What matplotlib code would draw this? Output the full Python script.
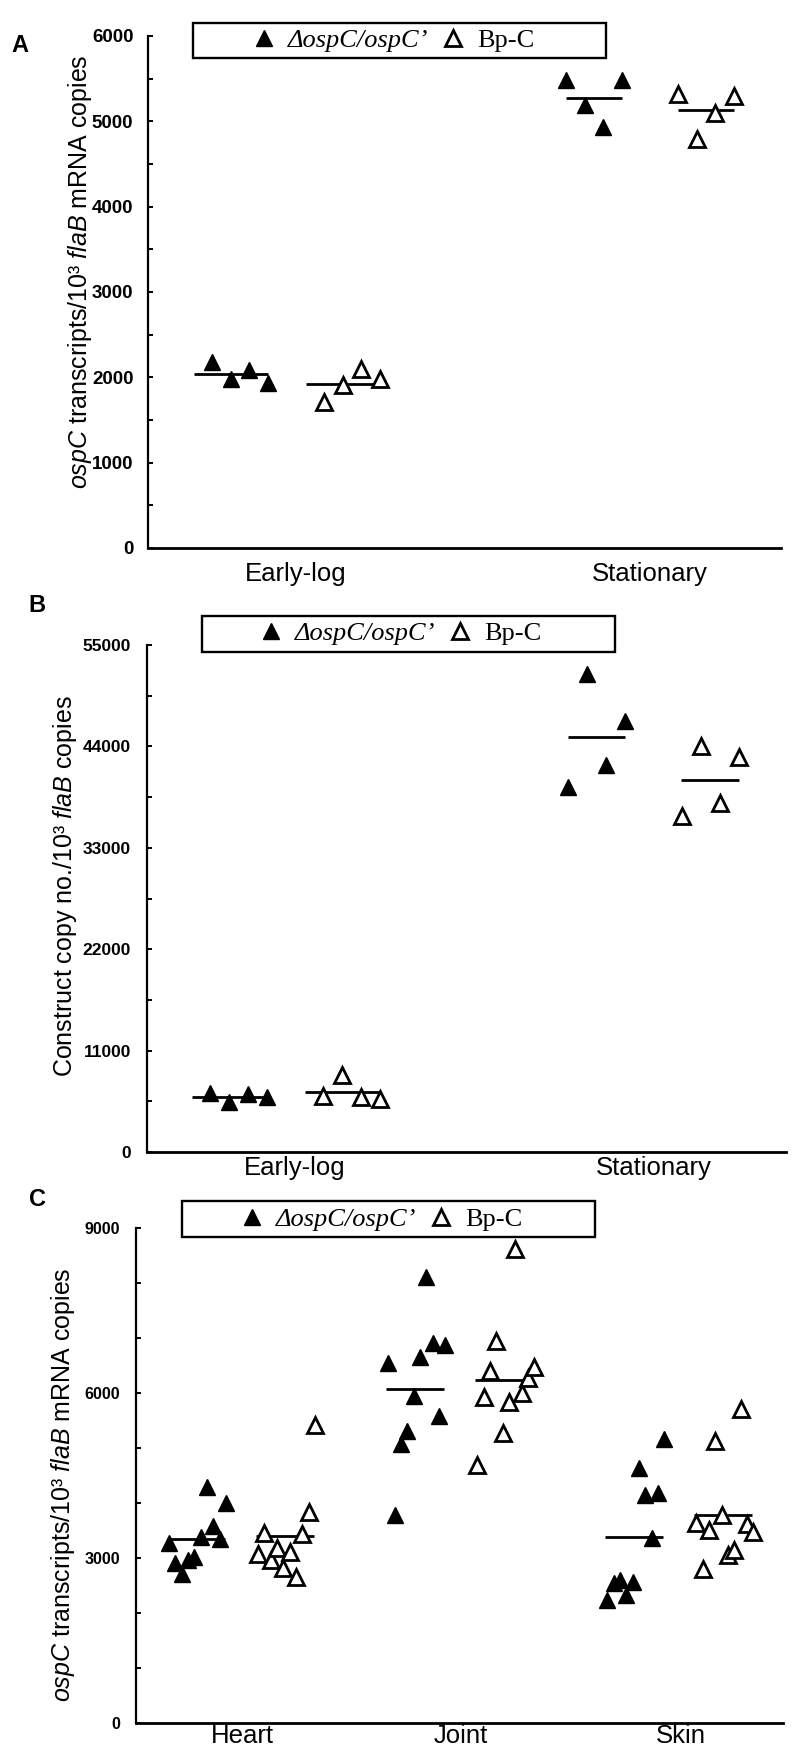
import numpy as np
import matplotlib
matplotlib.use('Agg')
import matplotlib.pyplot as plt
from matplotlib.patches import Rectangle
from matplotlib.font_manager import FontProperties

plt.rcParams['font.family'] = ['Liberation Sans', 'DejaVu Sans']
plt.rcParams['mathtext.fontset'] = 'custom'
plt.rcParams['mathtext.rm'] = 'Liberation Sans'
plt.rcParams['mathtext.it'] = 'Liberation Sans:italic'
plt.rcParams['mathtext.bf'] = 'Liberation Sans:bold'

# ---------------- data ----------------
series_names = ['\u0394ospC/ospC\u2019', 'Bp-C']
phase_labels = ['Early-log', 'Stationary']
tissue_labels = ['Heart', 'Joint', 'Skin']

# Panel A: ospC transcripts / 10^3 flaB mRNA copies (in vitro)
a_mutant_early = [2183, 1977, 2086, 1930]
a_mutant_stat = [5480, 5187, 4936, 5480]
a_bpc_early = [1715, 1910, 2094, 1977]
a_bpc_stat = [5325, 4790, 5103, 5300]

# Panel B: construct copy no. / 10^3 flaB copies
b_mutant_early = [6405, 5451, 6264, 5928]
b_mutant_stat = [39600, 51800, 42000, 46800]
b_bpc_early = [6025, 8312, 5928, 5787]
b_bpc_stat = [36500, 44000, 37900, 42900]

# Panel C: ospC transcripts / 10^3 flaB mRNA copies (tissues)
c_mutant_heart = [3272, 2898, 2703, 2958, 3018, 3382, 4291, 3582, 3334, 3989]
c_mutant_joint = [6545, 3770, 5067, 5309, 5939, 6643, 8097, 6897, 5576, 6867]
c_mutant_skin = [2231, 2534, 2594, 2322, 2564, 4625, 4140, 3352, 4170, 5158]
c_bpc_heart = [3061, 3454, 2958, 3170, 2807, 3098, 2655, 3425, 3836, 5412]
c_bpc_joint = [4679, 5916, 6399, 6939, 5272, 5836, 8606, 5988, 6261, 6472]
c_bpc_skin = [3636, 2794, 3503, 5121, 3776, 3049, 3140, 5698, 3607, 3461]

a_yticks = [0, 1000, 2000, 3000, 4000, 5000, 6000]
b_yticks = [0, 11000, 22000, 33000, 44000, 55000]
c_yticks = [0, 3000, 6000, 9000]

# ---------------- layout ----------------
W, H = 800, 1761
fig = plt.figure(figsize=(W / 100, H / 100), dpi=100)


def fx(px):
    return px / W


def fy(py):
    return 1 - py / H


def make_axes(left, right, top, bottom):
    return fig.add_axes([fx(left), fy(bottom), (right - left) / W, (bottom - top) / H])


MS = 12
FILLED = dict(ls='none', marker='^', ms=MS, mfc='black', mec='black', mew=1.0)
OPEN = dict(ls='none', marker='^', ms=MS - 0.5, mfc='white', mec='black', mew=2.0)


def draw_panel(ax, cats, mutant, bpc, off, step, line_ext, xlim, yticks, minor, ylim,
               ypad, xpad, tick_size):
    handles = []
    for j, (vals_m, vals_b) in enumerate(zip(mutant, bpc)):
        for side, vals, style in ((-1, vals_m, FILLED), (1, vals_b, OPEN)):
            n = len(vals)
            center = (j + 1) + side * off
            xs = center + (np.arange(n) - (n - 1) / 2) * step
            h, = ax.plot(xs, vals, zorder=3, clip_on=False, **style)
            if j == 0:
                handles.append(h)
            l, r = line_ext[j]
            ax.plot([center + l, center + r], [np.mean(vals)] * 2, color='black',
                    lw=2.0, zorder=2, solid_capstyle='butt')
    ax.set_xlim(*xlim)
    ax.set_ylim(*ylim)
    ax.set_xticks(range(1, len(cats) + 1))
    ax.set_xticklabels(cats, fontsize=18.5)
    ax.set_yticks(yticks)
    ax.set_yticklabels([str(t) for t in yticks],
                       fontproperties=FontProperties(family='Liberation Sans',
                                                     weight='bold', size=tick_size))
    ax.set_yticks(minor, minor=True)
    ax.tick_params(axis='x', length=0, pad=xpad)
    ax.tick_params(axis='y', which='both', direction='in', length=3.5, width=1.4, pad=ypad)
    for s in ('top', 'right'):
        ax.spines[s].set_visible(False)
    ax.spines['left'].set_linewidth(1.6)
    ax.spines['bottom'].set_linewidth(2.0)
    return handles


def legend_box(handles, box, content_cx):
    x0, x1, y0, y1 = box
    fig.add_artist(Rectangle((fx(x0), fy(y1)), (x1 - x0) / W, (y1 - y0) / H,
                             transform=fig.transFigure, fill=False, lw=1.7,
                             ec='black', zorder=5))
    leg = fig.legend(handles, series_names, loc='center',
                     bbox_to_anchor=(fx(content_cx), fy((y0 + y1) / 2)),
                     ncol=2, frameon=False,
                     prop=FontProperties(family='Liberation Serif', size=19),
                     handlelength=0.9, handletextpad=0.45, columnspacing=0.5,
                     borderpad=0, borderaxespad=0)
    leg.get_texts()[0].set_fontstyle('italic')
    return leg


# Panel A
axA = make_axes(148, 781, 36, 548)
hA = draw_panel(axA, phase_labels, [a_mutant_early, a_mutant_stat],
                [a_bpc_early, a_bpc_stat], off=0.158, step=0.052,
                line_ext=[(-0.13, 0.08), (-0.08, 0.08)], xlim=(0.582, 2.370),
                yticks=a_yticks, minor=np.arange(0, 6001, 500), ylim=(0, 6000),
                ypad=10.5, xpad=10, tick_size=13.5)
legend_box(hA, (193, 606, 23, 58), 393)

# Panel B
axB = make_axes(147, 786, 645, 1152)
hB = draw_panel(axB, phase_labels, [b_mutant_early, b_mutant_stat],
                [b_bpc_early, b_bpc_stat], off=0.158, step=0.053,
                line_ext=[(-0.13, 0.08), (-0.08, 0.08)], xlim=(0.587, 2.370),
                yticks=b_yticks, minor=np.arange(0, 55001, 5500), ylim=(0, 55000),
                ypad=11.5, xpad=3, tick_size=12.5)
legend_box(hB, (202, 615, 616, 651.5), 400)

# Panel C
axC = make_axes(136, 783, 1227.5, 1722.7)
hC = draw_panel(axC, tissue_labels, [c_mutant_heart, c_mutant_joint, c_mutant_skin],
                [c_bpc_heart, c_bpc_joint, c_bpc_skin], off=0.203, step=0.0289,
                line_ext=[(-0.14, 0.125)] * 3, xlim=(0.516, 3.468),
                yticks=c_yticks, minor=np.arange(0, 9001, 1000), ylim=(0, 9000),
                ypad=11.5, xpad=1, tick_size=11.5)
legend_box(hC, (182, 595, 1201, 1237), 381)

# y labels
ylab_kw = dict(rotation=90, ha='center', va='center', fontsize=18)
fig.text(fx(80), fy(272), r'$\mathit{ospC}$ transcripts/10' + '\u00b3 ' + r'$\mathit{flaB}$ mRNA copies', **ylab_kw)
fig.text(fx(65), fy(886), 'Construct copy no./10\u00b3 ' + r'$\mathit{flaB}$ copies', **ylab_kw)
fig.text(fx(63), fy(1485), r'$\mathit{ospC}$ transcripts/10' + '\u00b3 ' + r'$\mathit{flaB}$ mRNA copies', **ylab_kw)

# panel letters
for letter, (px, py) in zip('ABC', [(20, 46), (37, 606), (37, 1200)]):
    fig.text(fx(px), fy(py), letter, ha='center', va='center', fontsize=17, fontweight='bold')

fig.savefig('out.png', dpi=100)
